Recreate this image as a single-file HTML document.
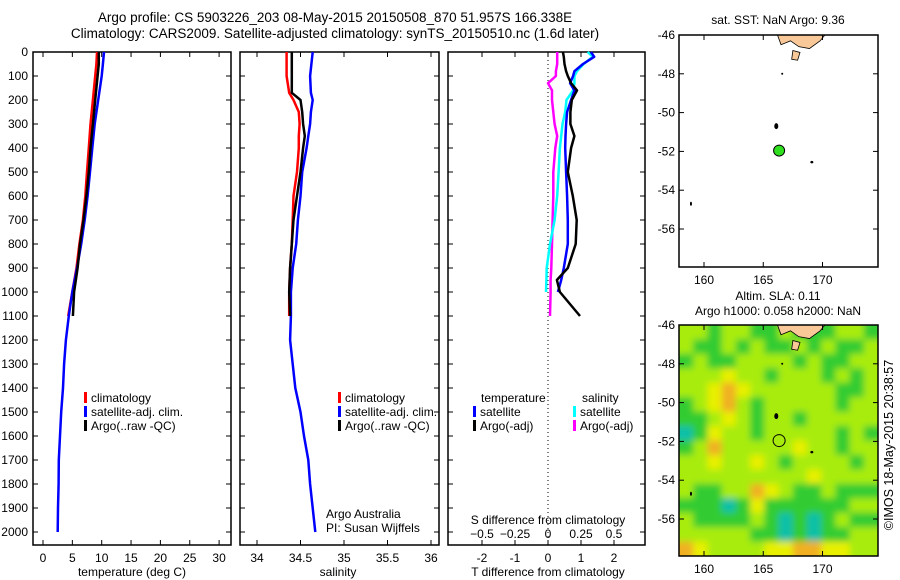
<!DOCTYPE html>
<html><head><meta charset="utf-8"><style>
body{margin:0;background:#fff}
svg{display:block;font-family:"Liberation Sans",sans-serif}
text{font-size:12px;fill:#000}
</style></head><body>
<svg id="chart" width="900" height="580" viewBox="0 0 900 580">
<defs>
<clipPath id="cm2"><rect x="679" y="325" width="199" height="231"/></clipPath>
<filter id="bl" x="-0.1" y="-0.1" width="1.2" height="1.2"><feGaussianBlur stdDeviation="3.5"/></filter>
</defs>
<text x="335" y="22" text-anchor="middle" style="font-size:13.5px">Argo profile: CS 5903226_203 08-May-2015 20150508_870 51.957S 166.338E</text>
<text x="335" y="38" text-anchor="middle" style="font-size:13.5px">Climatology: CARS2009. Satellite-adjusted climatology: synTS_20150510.nc (1.6d later)</text>
<g id="g"></g>
</svg>
<script>
// ---- data ----
const tDepth=[0,50,100,200,300,400,500,600,700,800,900,1000,1100,1200,1300,1400,1500,1600,1700,1800,1900,2000];
const tClim=[9.2,9.1,8.9,8.5,8.1,7.8,7.5,7.2,6.8,6.2,5.7,5.0,4.3];
const tSat=[10.4,10.2,10.0,9.4,8.8,8.4,8.0,7.6,7.1,6.5,5.8,5.0,4.4,3.9,3.6,3.4,3.1,2.9,2.7,2.65,2.55,2.5];
const tArgo=[9.5,9.5,9.3,8.9,8.5,8.1,7.8,7.4,6.9,6.3,5.9,5.3,5.1];
const sDepth=[0,100,170,200,250,300,350,400,500,600,700,800,900,1000,1100,1200,1300,1400,1500,1600,1700,1800,1900,2000];
const sClim=[34.34,34.34,34.37,34.42,34.48,34.49,34.48,34.48,34.46,34.42,34.41,34.40,34.38,34.37,34.37];
const sSat=[34.64,34.61,34.62,34.64,34.62,34.61,34.59,34.57,34.52,34.5,34.47,34.45,34.41,34.39,34.39,34.38,34.41,34.44,34.5,34.54,34.59,34.61,34.64,34.67];
const sArgo=[34.40,34.40,34.40,34.5,34.52,34.53,34.55,34.53,34.5,34.46,34.42,34.40,34.38,34.37,34.38];
const dDepth=[0,20,50,80,100,130,160,200,250,300,350,400,500,600,700,800,900,950,1000,1100];
const dTsat=[1.3,1.4,1.06,0.8,0.76,0.67,0.8,0.7,0.58,0.55,0.53,0.52,0.55,0.58,0.6,0.6,0.48,0.4,0.3];
const dTargo=[0.45,0.48,0.5,0.55,0.6,0.7,0.88,0.72,0.68,0.68,0.8,0.7,0.6,0.75,0.87,0.84,0.6,0.27,0.36,0.97];
const dSsat=[0.3,0.34,0.27,0.22,0.2,0.2,0.19,0.14,0.13,0.11,0.1,0.09,0.08,0.07,0.05,0.015,-0.01,-0.012,-0.015];
const dSargo=[0.07,0.07,0.07,0.06,0.06,0.0,0.03,0.03,0.04,0.05,0.07,0.055,0.04,0.04,0.035,0.03,0.025,0.02,0.02,0.015];
const slaGrid=[
[2,2,1,2,2,1,1,2,1,1,1,2,2,1],
[2,1,1,2,1,2,1,1,2,1,2,1,1,2],
[1,2,1,1,2,2,2,2,1,2,1,1,2,2],
[2,2,2,3,2,2,1,2,2,2,1,2,1,2],
[2,2,3,4,3,2,2,2,2,2,2,1,1,2],
[1,2,3,4,2,1,2,2,2,2,2,1,2,2],
[1,1,2,3,2,1,2,2,1,2,2,2,2,2],
[0,1,3,2,2,1,2,2,2,2,2,1,2,1],
[1,2,4,2,2,2,2,2,3,2,2,1,2,2],
[2,2,3,2,2,3,2,1,2,2,2,2,1,2],
[2,2,2,2,2,2,2,2,2,3,2,2,2,2],
[2,1,1,2,2,4,3,2,1,1,2,1,1,1],
[1,1,1,0,1,3,1,1,1,1,1,1,2,2],
[2,1,1,1,1,2,1,0,1,0,1,2,1,1],
[2,2,2,2,2,1,1,0,1,0,1,1,2,2],
[4,3,2,2,2,2,3,3,4,4,3,3,2,2]];
const slaColors=["#10c0a8","#30cc30","#a8ec10","#e8f000","#f0b020"];
const profLat=-51.957, profLon=166.338;
const islands=[[166.1,-50.7,3,5],[169.1,-52.55,2,1.5],[166.6,-48.0,1,1],[158.9,-54.7,1,3]];

const NS="http://www.w3.org/2000/svg";
const G=document.getElementById('g');
function mk(t,a,p){const e=document.createElementNS(NS,t);for(const k in a)e.setAttribute(k,a[k]);(p||G).appendChild(e);return e;}
const yD=d=>52+d*0.24;
function frame(x0,x1,y0,y1,name){const r=mk('rect',{x:x0,y:y0,width:x1-x0,height:y1-y0,fill:'none',stroke:'#000','stroke-width':1.5});}
function line(xs,ys,col,w,name){let p='';xs.forEach((x,i)=>{p+=(i?'L':'M')+x.toFixed(1)+' '+ys[i].toFixed(1);});const e=mk('path',{d:p,fill:'none',stroke:col,'stroke-width':w,'stroke-linejoin':'round'});}
function txt(x,y,s,anc,name,extra){const e=mk('text',Object.assign({x:x,y:y,'text-anchor':anc||'start'},extra||{}));e.textContent=s;return e;}
function tick(x1,y1,x2,y2){mk('line',{x1:x1,y1:y1,x2:x2,y2:y2,stroke:'#000','stroke-width':1});}
const xT=v=>43+v*5.87;
const P=[[33,231],[240,439],[448,645]];
P.forEach((p,i)=>{
  frame(p[0],p[1],52,545,'profile-panel-'+(i+1));
  for(let d=0;d<=2000;d+=100){tick(p[0],yD(d),p[0]+5,yD(d));tick(p[1],yD(d),p[1]-5,yD(d));}
});
for(let d=0;d<=2000;d+=100)txt(28,yD(d)+4,String(d),'end','depth-tick-label');
for(let v=0;v<=30;v+=5){tick(xT(v),545,xT(v),540);tick(xT(v),52,xT(v),57);txt(xT(v),562,String(v),'middle','temp-tick-label');}
txt(132,576,'temperature (deg C)','middle','x-axis-title-temperature');
line(tClim.map(xT),tDepth.slice(0,tClim.length).map(yD),'#f00',2.5,'temp-climatology-line');
line(tSat.map(xT),tDepth.map(yD),'#00f',2.5,'temp-satellite-line');
line(tArgo.map(xT),tDepth.slice(0,tArgo.length).map(yD),'#000',2.5,'temp-argo-line');
const xS=v=>257+(v-34)*87;
[34,34.5,35,35.5,36].forEach(v=>{tick(xS(v),545,xS(v),540);tick(xS(v),52,xS(v),57);txt(xS(v),562,String(v),'middle','salinity-tick-label');});
txt(338,576,'salinity','middle','x-axis-title-salinity');
line(sClim.map(xS),sDepth.slice(0,sClim.length).map(yD),'#f00',2.5,'sal-climatology-line');
line(sSat.map(xS),sDepth.map(yD),'#00f',2.5,'sal-satellite-line');
line(sArgo.map(xS),sDepth.slice(0,sArgo.length).map(yD),'#000',2.5,'sal-argo-line');
function leg(x,y,col,s,name){const r=mk('rect',{x:x,y:y-10,width:3,height:11,fill:col});txt(x+7,y,s,'start',name);}
[[84],[338]].forEach((q,i)=>{leg(q[0],402,'#f00','climatology','legend-climatology');leg(q[0],416,'#00f','satellite-adj. clim.','legend-satellite');leg(q[0],430,'#000','Argo(..raw -QC)','legend-argo');});
txt(326,518,'Argo Australia','start','credit-line-1');txt(326,532,'PI: Susan Wijffels','start','credit-line-2');
const xDT=v=>548+v*33, xDS=v=>548+v*132;
[-2,-1,0,1,2].forEach(v=>{tick(xDT(v),545,xDT(v),540);tick(xDT(v),52,xDT(v),57);txt(xDT(v),562,String(v),'middle','tdiff-tick-label');});
[-0.5,-0.25,0,0.25,0.5].forEach(v=>{tick(xDS(v),545,xDS(v),540);txt(xDS(v),538,String(v).replace('-','−'),'middle','sdiff-tick-label');});
txt(548,524,'S difference from climatology','middle','sdiff-axis-title');
txt(548,576,'T difference from climatology','middle','tdiff-axis-title');
mk('line',{x1:548,y1:52,x2:548,y2:545,stroke:'#000','stroke-width':1,'stroke-dasharray':'1,3'});
line(dSargo.map(xDS),dDepth.slice(0,dSargo.length).map(yD),'#f0f',2.5,'sdiff-argo-line');
line(dSsat.map(xDS),dDepth.slice(0,dSsat.length).map(yD),'#0ff',2.5,'sdiff-satellite-line');
line(dTsat.map(xDT),dDepth.slice(0,dTsat.length).map(yD),'#00f',2.5,'tdiff-satellite-line');
line(dTargo.map(xDT),dDepth.slice(0,dTargo.length).map(yD),'#000',2.5,'tdiff-argo-line');
txt(481,402,'temperature','start','legend-temp-heading');txt(582,402,'salinity','start','legend-sal-heading');
leg(473,416,'#00f','satellite','legend-tdiff-satellite');leg(473,430,'#000','Argo(-adj)','legend-tdiff-argo');
leg(573,416,'#0ff','satellite','legend-sdiff-satellite');leg(573,430,'#f0f','Argo(-adj)','legend-sdiff-argo');
const lonX=v=>704+(v-160)*11.85;
function drawMap(y0,y1,name,heat){
  const latY=v=>y0+(-46-v)*19.4;
  if(heat){
    const hg=mk('g',{'clip-path':'url(#cm2)'});
    const inner=mk('g',{filter:'url(#bl)'},hg);
    const rows=slaGrid.length,cols=slaGrid[0].length,cw=199/cols,ch=(y1-y0)/rows;
    mk('rect',{x:665,y:y0-15,width:230,height:y1-y0+30,fill:slaColors[2]},inner);
    slaGrid.forEach((r,i)=>r.forEach((v,j)=>{const c=mk('rect',{x:679+j*cw-(j==0?12:0),y:y0+i*ch-(i==0?12:0),width:cw+0.5+(j==0||j==cols-1?12:0),height:ch+0.5+(i==0||i==rows-1?12:0),fill:slaColors[v]},inner);}));
  }
  const land=mk('path',{d:`M${lonX(166.2)} ${y0} L${lonX(166.5)} ${latY(-46.5)} L${lonX(167.3)} ${latY(-46.3)} L${lonX(168)} ${latY(-46.6)} L${lonX(168.9)} ${latY(-46.7)} L${lonX(169.8)} ${latY(-46.3)} L${lonX(170.2)} ${y0} Z M${lonX(167.5)} ${latY(-46.8)} L${lonX(168.1)} ${latY(-46.9)} L${lonX(167.9)} ${latY(-47.3)} L${lonX(167.4)} ${latY(-47.25)} Z`,fill:'#f8c898',stroke:'#000','stroke-width':0.8});
  
  islands.forEach(s=>{const e=mk('ellipse',{cx:lonX(s[0]),cy:latY(s[1]),rx:s[2]/2+0.5,ry:s[3]/2+0.5,fill:'#000'});});
  const c=mk('circle',{cx:lonX(profLon),cy:latY(profLat),r:heat?6:5.5,fill:heat?'none':'#30e020',stroke:'#000','stroke-width':1});
  
  frame(679,878,y0,y1,name);
  [-46,-48,-50,-52,-54,-56].forEach(v=>{tick(679,latY(v),684,latY(v));tick(878,latY(v),873,latY(v));txt(675,latY(v)+4,String(v),'end','lat-tick-label');});
  [160,165,170].forEach(v=>{tick(lonX(v),y1,lonX(v),y1-5);tick(lonX(v),y0,lonX(v),y0+5);txt(lonX(v),y1+17,String(v),'middle','lon-tick-label');});
}
drawMap(35,267,'sst-map',false);
drawMap(325,556,'sla-map',true);
txt(778,24,'sat. SST: NaN Argo: 9.36','middle','sst-map-title',{style:'font-size:12px'});
txt(778,300,'Altim. SLA: 0.11','middle','sla-map-title-1',{style:'font-size:12px'});
txt(778,315,'Argo h1000: 0.058 h2000: NaN','middle','sla-map-title-2',{style:'font-size:12px'});
txt(0,0,'©IMOS 18-May-2015 20:38:57','middle','imos-timestamp',{transform:'translate(893,445) rotate(-90)',style:'font-size:12.5px'});
</script>
</body></html>
